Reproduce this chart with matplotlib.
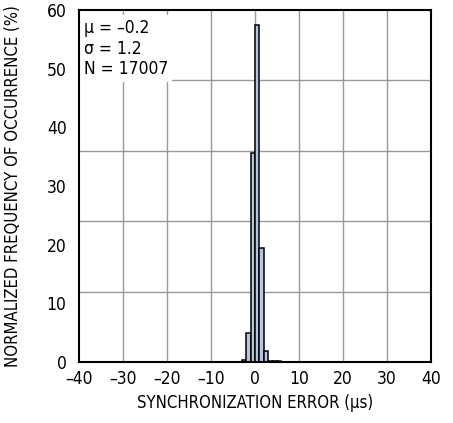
import numpy as np
import matplotlib
matplotlib.use('Agg')
import matplotlib.pyplot as plt
from matplotlib.patches import Rectangle

plt.rcParams['font.family'] = ['DejaVu Sans']
plt.rcParams['font.stretch'] = 'condensed'

# histogram bins (left edges, us) and heights (%)
bin_left = [-3, -2, -1, 0, 1, 2, 3, 4, 5]
freq = [0.3, 4.9, 35.6, 57.4, 19.5, 1.9, 0.1, 0.15, 0.15]
bin_width = 1.0

xticks = [-40, -30, -20, -10, 0, 10, 20, 30, 40]
xticklabels = ['–40', '–30', '–20', '–10', '0', '10', '20', '30', '40']
yticks = [0, 10, 20, 30, 40, 50, 60]
ygrid = [12, 24, 36, 48]
stats = ['μ = –0.2', 'σ = 1.2', 'N = 17007']

f = plt.figure(figsize=(4.53, 4.23), dpi=100)
ax = f.add_axes([79/453, 61/423, 352/453, 352/423])

ax.bar(bin_left, freq, width=bin_width, align='edge', color='#b7c5e2',
       edgecolor='black', linewidth=1.1, zorder=3)

for x in xticks[1:-1]:
    ax.axvline(x, color='#999999', linewidth=1.0, zorder=1)
for y in ygrid:
    ax.axhline(y, color='#999999', linewidth=1.0, zorder=1)

# white box behind the stats text
ax.add_patch(Rectangle((0.0, 0.795), 0.264, 0.19, transform=ax.transAxes,
                       facecolor='white', edgecolor='none', zorder=2))
ax.text(0.015, 0.975, '\n'.join(stats), transform=ax.transAxes, ha='left',
        va='top', fontsize=12.5, linespacing=1.2, zorder=4)

ax.set_xlim(-40, 40)
ax.set_ylim(0, 60)
ax.set_xticks(xticks)
ax.set_xticklabels(xticklabels)
ax.set_yticks(yticks)
ax.tick_params(axis='both', length=0, labelsize=12.5)
ax.tick_params(axis='x', pad=6)
ax.tick_params(axis='y', pad=9)
for s in ax.spines.values():
    s.set_linewidth(1.5)
    s.set_zorder(5)

ax.set_xlabel('SYNCHRONIZATION ERROR (μs)', fontsize=12, labelpad=4)
ax.set_ylabel('NORMALIZED FREQUENCY OF OCCURRENCE (%)', fontsize=12, labelpad=18)

f.savefig('out.png', dpi=100)
